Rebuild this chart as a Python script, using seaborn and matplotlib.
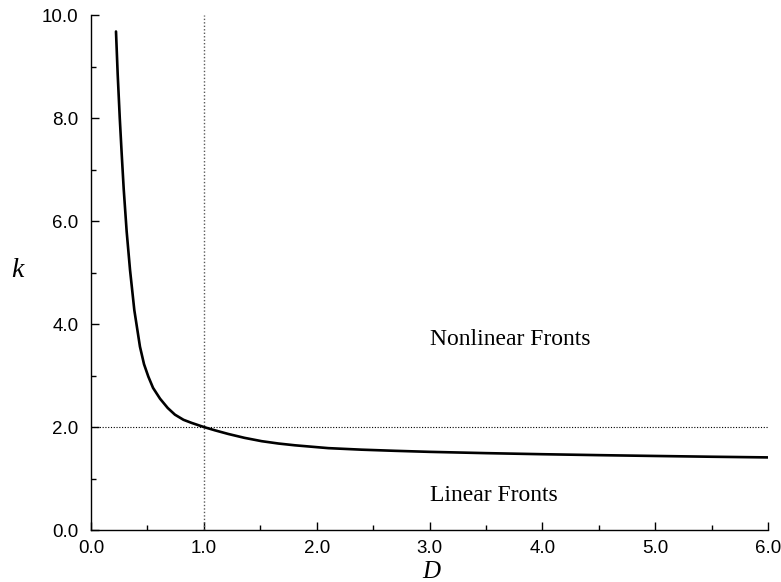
import seaborn as sns
import pandas as pd
import matplotlib.pyplot as plt
from matplotlib.ticker import MultipleLocator

# curve
D = [0.2216, 0.2366, 0.255, 0.272, 0.29, 0.316, 0.346, 0.384, 0.434, 0.47, 0.508, 0.55,
     0.612, 0.68, 0.744, 0.82, 0.892, 1.0, 1.1, 1.217, 1.36, 1.513, 1.66, 1.808,
     2.103, 2.40, 2.694, 3.0, 3.5, 4.0, 4.5, 5.0, 5.5, 6.0]
k = [9.68, 8.85, 8.0, 7.31, 6.62, 5.8, 5.05, 4.27, 3.56, 3.22, 2.98, 2.76,
     2.55, 2.37, 2.24, 2.14, 2.08, 2.0, 1.935, 1.865, 1.79, 1.725, 1.68, 1.645,
     1.59, 1.56, 1.538, 1.518, 1.493, 1.472, 1.454, 1.438, 1.423, 1.41]

x_ticks = [0, 1, 2, 3, 4, 5, 6]
y_ticks = [0, 2, 4, 6, 8, 10]
D_crit = 1.0
k_crit = 2.0

mydata = pd.DataFrame({"D": D, "k": k})

sns.set_style("ticks", {"text.color": "black", "axes.labelcolor": "black",
                        "xtick.color": "black", "ytick.color": "black",
                        "axes.edgecolor": "black"})
plt.rcParams['font.family'] = ['Liberation Sans', 'DejaVu Sans']

fig = plt.figure(figsize=(7.81, 5.82), dpi=100)
ax = fig.add_axes([0.1165, 0.0893, 0.9834 - 0.1165, 0.9742 - 0.0893])

# dotted guides
ax.axvline(D_crit, color="0.35", lw=1.0, ls=(0, (1, 1.5)), zorder=1)
ax.axhline(k_crit, color="black", lw=0.8, ls=(0, (1, 1.5)), zorder=1)

sns.lineplot(x="D", y="k", data=mydata, sort=False, color="black", lw=1.9, ax=ax, zorder=3)

ax.set_xlim(0, 6)
ax.set_ylim(0, 10)
ax.set_xticks(x_ticks)
ax.set_yticks(y_ticks)
ax.set_xticklabels([f"{v:.1f}" for v in x_ticks])
ax.set_yticklabels([f"{v:.1f}" for v in y_ticks])
ax.xaxis.set_minor_locator(MultipleLocator(0.5))
ax.yaxis.set_minor_locator(MultipleLocator(1.0))
ax.tick_params(which="major", direction="in", length=6, width=1, labelsize=13.5)
ax.tick_params(axis="x", which="major", pad=7)
ax.tick_params(axis="y", which="major", pad=9)
ax.tick_params(which="minor", direction="in", length=3.5, width=1)
sns.despine(ax=ax)
for s in ["left", "bottom"]:
    ax.spines[s].set_linewidth(1.0)

ax.set_xlabel("D", family=["Liberation Serif"], style="italic", fontsize=18)
ax.set_ylabel("k", family=["Liberation Serif"], style="italic", fontsize=20, rotation=0)
ax.xaxis.set_label_coords(0.502, -0.06)
ax.yaxis.set_label_coords(-0.109, 0.48)

ax.text(3.0, 3.70, "Nonlinear Fronts", family=["Liberation Serif"], fontsize=17, ha="left", va="center")
ax.text(3.0, 0.68, "Linear Fronts", family=["Liberation Serif"], fontsize=17, ha="left", va="center")

plt.savefig("out.png", dpi=100)
